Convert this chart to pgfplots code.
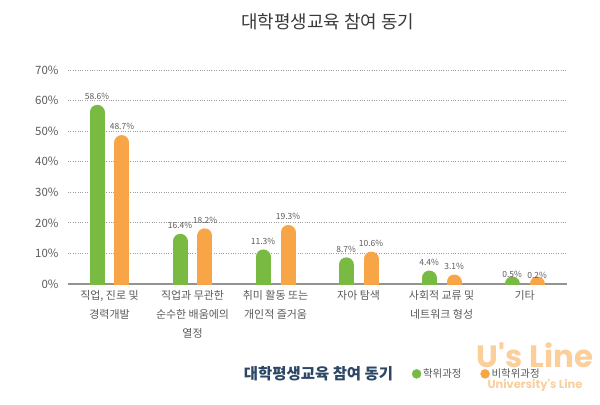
\documentclass[border=0pt]{standalone}
\usepackage{pgfplots}
\pgfplotsset{compat=1.18}
\usepackage{fontspec}
\setmainfont{Noto Sans CJK KR}
\newfontfamily\wmfont{Poppins}
\definecolor{cgreen}{HTML}{78BA42}
\definecolor{corange}{HTML}{F7A547}
\definecolor{navy}{HTML}{2C4766}
\definecolor{txt}{HTML}{5A5A5A}
\definecolor{ttl}{HTML}{3A3A3A}
\pgfplotsset{
  barbase/.style={ycomb, line width=15bp, line cap=round, shorten >=7.5bp, forget plot,
    point meta=y,
    nodes near coords={\pgfmathprintnumber[fixed,fixed zerofill,precision=1]{\pgfplotspointmeta}\%},
    every node near coord/.style={text=txt, font=\fontsize{8.5}{9}\selectfont, anchor=south, yshift=4bp, inner sep=1bp, line width=0.4pt}},
  gbar/.style={barbase, draw=cgreen},
  obar/.style={barbase, draw=corange},
}
\begin{document}
\begin{tikzpicture}
\path[use as bounding box] (-68bp,-121bp) rectangle (532bp,284bp);
\begin{axis}[
  scale only axis, width=499bp, height=214bp,
  at={(0,0)}, anchor=south west,
  xmin=-0.5, xmax=5.51, ymin=0, ymax=70,
  axis x line=bottom, axis y line=left,
  axis line style={-},
  x axis line style={draw=gray!85, line width=1.6bp},
  y axis line style={draw=none},
  major tick length=0pt,
  ytick={0,10,...,70},
  yticklabel={\pgfmathprintnumber{\tick}\%},
  /pgf/number format/assume math mode=true,
  yticklabel style={text=txt, font=\fontsize{11.5}{13}\selectfont, xshift=-6bp},
  ymajorgrids,
  major grid style={dotted, gray!75, line width=0.8bp},
  xtick={0,...,5},
  xticklabels={{직업, 진로 및\\경력개발},{직업과 무관한\\순수한 배움에의\\열정},{취미 활동 또는\\개인적 즐거움},{자아 탐색},{사회적 교류 및\\네트워크 형성},{기타}},
  xticklabel style={text=txt, font=\fontsize{11}{19}\selectfont, align=center, yshift=-3bp},
  title={대학평생교육 참여 동기},
  title style={at={(axis description cs:0.521,1.196)}, anchor=center, text=ttl, font=\fontsize{18}{20}\selectfont},
  legend style={draw=none, fill=none, at={(axis description cs:0.649,-0.42)}, anchor=center,
    legend columns=3, font=\fontsize{10.5}{12}\selectfont, text=txt,
    /tikz/every even column/.append style={column sep=17bp},
    legend cell align=left},
]
\addlegendimage{empty legend}
\addlegendentry{\fontsize{15.5}{17}\selectfont\bfseries\color{navy}대학평생교육 참여 동기}
\addlegendimage{only marks, mark=*, mark size=4.5bp, mark options={draw=cgreen, fill=cgreen}}
\addlegendentry{학위과정}
\addlegendimage{only marks, mark=*, mark size=4.5bp, mark options={draw=corange, fill=corange}}
\addlegendentry{비학위과정}

\addplot[gbar] coordinates {(-0.15,58.6)};
\addplot[obar] coordinates {(0.15,48.7)};
\addplot[gbar] coordinates {(0.85,16.4)};
\addplot[obar] coordinates {(1.15,18.2)};
\addplot[gbar] coordinates {(1.85,11.3)};
\addplot[obar] coordinates {(2.15,19.3)};
\addplot[gbar] coordinates {(2.85,8.7)};
\addplot[obar] coordinates {(3.15,10.6)};
\addplot[gbar] coordinates {(3.85,4.4)};
\addplot[obar] coordinates {(4.15,3.1)};
\addplot[gbar] coordinates {(4.85,0.5)};
\addplot[obar] coordinates {(5.15,0.2)};
\end{axis}
\node[text=corange, opacity=0.55, font=\wmfont\bfseries\fontsize{31}{31}\selectfont, inner sep=0pt] at (467bp,-71bp) {U's Line};
\node[text=corange, opacity=0.55, font=\wmfont\bfseries\fontsize{11.5}{12}\selectfont, inner sep=0pt] at (467bp,-101bp) {University's Line};
\end{tikzpicture}
\end{document}
